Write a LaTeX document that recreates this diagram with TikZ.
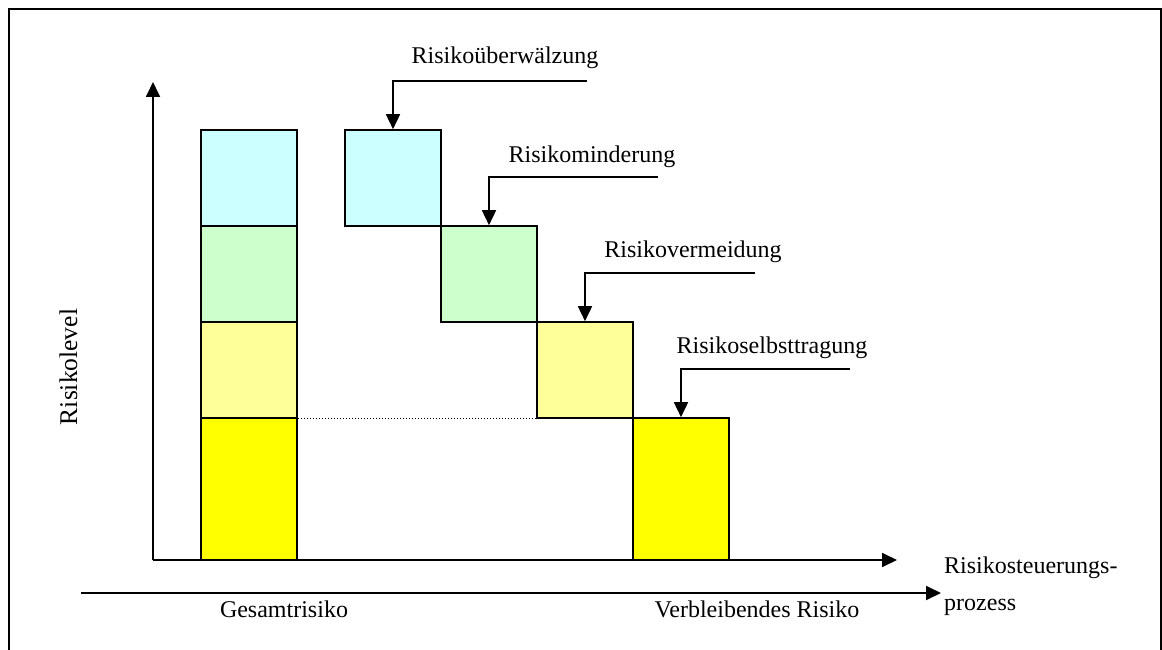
\documentclass[tikz,border=0pt]{standalone}
\usepackage{fontspec}
\setmainfont{Liberation Serif}
\usetikzlibrary{arrows.meta}
\definecolor{paleCyan}{HTML}{CCFFFF}
\definecolor{paleGreen}{HTML}{CCFFCC}
\definecolor{paleYellow}{HTML}{FFFF99}
\definecolor{fullYellow}{HTML}{FFFF00}
\tikzset{
  blk/.style={draw=black, line width=1.6pt, inner sep=0pt, minimum width=96pt, minimum height=96pt},
  tallblk/.style={blk, minimum height=142pt},
  axisarrow/.style={line width=1.8pt, -{Triangle[length=15pt,width=14pt]}},
  callout/.style={line width=1.6pt, -{Triangle[length=15pt,width=14pt]}},
  lbl/.style={font=\fontsize{24}{28}\selectfont, inner sep=0pt, anchor=base},
}
\begin{document}
\begin{tikzpicture}[x=1pt,y=-1pt]
\useasboundingbox (0,0) rectangle (1162,650);

% open frame (no bottom edge)
\draw[line width=2pt] (9,650) -- (9,9) -- (1161,9) -- (1161,650);

% total risk column
\node[blk, fill=paleCyan]   (a1) at (249,178) {};
\node[blk, fill=paleGreen]  (a2) at (249,274) {};
\node[blk, fill=paleYellow] (a3) at (249,370) {};
\node[tallblk, fill=fullYellow] (a4) at (249,489) {};

% stepwise reduction
\node[blk, fill=paleCyan]   (b1) at (393,178) {};
\node[blk, fill=paleGreen]  (b2) at (489,274) {};
\node[blk, fill=paleYellow] (b3) at (585,370) {};
\node[tallblk, fill=fullYellow] (b4) at (681,489) {};

% dotted reference level
\draw[line width=0.9pt, dash pattern=on 1pt off 2pt] (a3.south east) -- (b3.south west);

% axes
\coordinate (origin) at (153,560);
\coordinate (ytip) at (153,82);
\coordinate (xtip) at (897,560);
\draw[axisarrow] (origin) -- (ytip);
\draw[axisarrow] (origin) -- (xtip);

% process arrow
\coordinate (pstart) at (81,593);
\coordinate (pend) at (941,593);
\draw[axisarrow] (pstart) -- (pend);

% callouts
\coordinate (c1) at (587,81);
\coordinate (c2) at (658,177);
\coordinate (c3) at (755,273);
\coordinate (c4) at (850,369);
\draw[callout] (c1) -| (b1.north);
\draw[callout] (c2) -| (b2.north);
\draw[callout] (c3) -| (b3.north);
\draw[callout] (c4) -| (b4.north);

% labels
\node[lbl] (l1) at (505,64) {Risikoüberwälzung};
\node[lbl] (l2) at (592,162) {Risikominderung};
\node[lbl] (l3) at (693,257) {Risikovermeidung};
\node[lbl] (l4) at (772,353) {Risikoselbsttragung};
\node[lbl, rotate=90, font=\fontsize{25.5}{29}\selectfont] (ylab) at (77,367) {Risikolevel};
\node[lbl] (g) at (284,617) {Gesamtrisiko};
\node[lbl] (v) at (757,617) {Verbleibendes Risiko};
\node[lbl, anchor=base west] (p1) at (944,573) {Risikosteuerungs-};
\node[lbl, anchor=base west] (p2) at (944,610) {prozess};
\end{tikzpicture}
\end{document}
